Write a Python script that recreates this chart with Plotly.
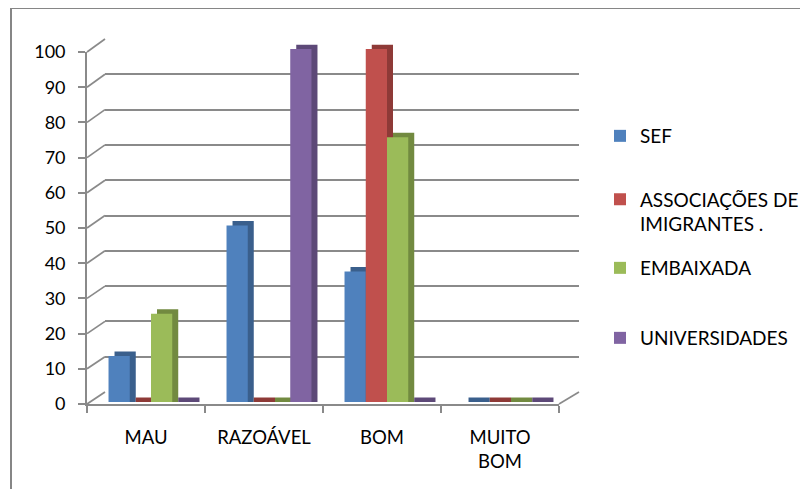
import plotly.graph_objects as go

categories = ["MAU", "RAZOÁVEL", "BOM", "MUITO<br>BOM"]
series_names = ["SEF", "ASSOCIAÇÕES DE<br>IMIGRANTES .", "EMBAIXADA", "UNIVERSIDADES"]
sef = [13, 50, 37, 0]
associacoes = [0, 0, 100, 0]
embaixada = [25, 0, 75, 0]
universidades = [0, 100, 0, 0]
y_ticks = [0, 10, 20, 30, 40, 50, 60, 70, 80, 90, 100]

values = [sef, associacoes, embaixada, universidades]
front_colors = ["#4F81BD", "#C0504D", "#9BBB59", "#8064A2"]
side_colors = ["#3A5F8C", "#8E3A37", "#728A40", "#5D4978"]

OFF = 8  # page body margin in the browser
W, H = 808 - OFF, 489 - OFF
# plot area in screen pixels
PL, PR, PT, PB = 87, 579, 39, 406


def fx(px):
    return (px - PL) / (PR - PL)


def fy(py):
    return (PB - py) / (PB - PT)


# geometry of the pseudo-3D planes (screen pixels)
FRONT = dict(x0=87, x1=559, y0=404, y100=52)
BACK = dict(x0=105, x1=579, y0=392, y100=39)
BARS = dict(x0=92, x1=564, y0=402, y100=49)
SIDE = dict(x0=98, x1=570, y0=397.5, y100=44.5)
SIDE_BASE = -1.3

FONT = "Lato"
GRID = "#8a8a8a"

fig = go.Figure()

# invisible anchors so every subplot exists
for ax in ["", "4"]:
    fig.add_trace(go.Scatter(x=categories, y=[0] * 4, mode="markers",
                             marker=dict(opacity=0), showlegend=False,
                             hoverinfo="skip", xaxis="x" + ax, yaxis="y" + ax))

# side/top faces (darker, offset behind)
for vals, col in zip(values, side_colors):
    fig.add_trace(go.Bar(x=categories, y=[v - SIDE_BASE for v in vals], base=SIDE_BASE,
                         marker=dict(color=col, line=dict(width=0)),
                         showlegend=False, hoverinfo="skip",
                         xaxis="x2", yaxis="y2"))

# front faces
legend_ids = ["legend", "legend2", "legend3", "legend4"]
for name, vals, col, lg in zip(series_names, values, front_colors, legend_ids):
    fig.add_trace(go.Bar(x=categories, y=vals, name=name,
                         marker=dict(color=col, line=dict(width=0)),
                         legend=lg, xaxis="x3", yaxis="y3"))


def ydom(plane, lo=0):
    k = (plane["y0"] - plane["y100"]) / 100.0
    return [fy(plane["y0"] - lo * k), fy(plane["y100"])]


hidden_x = dict(type="category", range=[-0.5, 3.5], visible=False,
                categoryorder="array", categoryarray=categories)

layout_axes = dict(
    xaxis=dict(hidden_x, domain=[fx(BACK["x0"]), fx(BACK["x1"])], anchor="y"),
    yaxis=dict(range=[0, 100], domain=ydom(BACK), anchor="x", dtick=10,
               showgrid=True, gridcolor=GRID, gridwidth=1.7, zeroline=False,
               showticklabels=False, showline=False),
    xaxis2=dict(hidden_x, domain=[fx(SIDE["x0"]), fx(SIDE["x1"])], anchor="y2"),
    yaxis2=dict(range=[SIDE_BASE, 100], domain=ydom(SIDE, SIDE_BASE), anchor="x2",
                visible=False),
    xaxis3=dict(hidden_x, domain=[fx(BARS["x0"]), fx(BARS["x1"])], anchor="y3"),
    yaxis3=dict(range=[0, 100], domain=ydom(BARS), anchor="x3", visible=False),
    xaxis4=dict(type="category", range=[-0.5, 3.5], categoryorder="array",
                categoryarray=categories,
                domain=[fx(FRONT["x0"]), fx(FRONT["x1"])], anchor="y4",
                showline=True, linecolor=GRID, linewidth=1.7,
                ticks="outside", tickson="boundaries", ticklen=7,
                tickcolor=GRID, tickwidth=1.7, showgrid=False,
                tickfont=dict(family=FONT, size=18.5, color="#000"),
                ticklabelstandoff=16),
    yaxis4=dict(range=[0, 100], domain=ydom(FRONT), anchor="x4",
                tickvals=y_ticks, showline=True, linecolor=GRID, linewidth=1.7,
                ticks="outside", ticklen=7, tickcolor=GRID, tickwidth=1.7,
                showgrid=False, zeroline=False,
                tickfont=dict(family=FONT, size=18, color="#000"),
                ticklabelstandoff=9),
)

shapes = []
# connectors from front axis to back wall
for v in y_ticks:
    yf = FRONT["y0"] - (FRONT["y0"] - FRONT["y100"]) * v / 100
    yb = BACK["y0"] - (BACK["y0"] - BACK["y100"]) * v / 100
    shapes.append(dict(type="line", xref="paper", yref="paper",
                       x0=fx(FRONT["x0"]), y0=fy(yf), x1=fx(BACK["x0"]), y1=fy(yb),
                       line=dict(color=GRID, width=1.7)))
# floor right edge
shapes.append(dict(type="line", xref="paper", yref="paper",
                   x0=fx(FRONT["x1"]), y0=fy(FRONT["y0"]), x1=fx(BACK["x1"]), y1=fy(BACK["y0"]),
                   line=dict(color=GRID, width=1.7)))
# outer chart border
shapes.append(dict(type="rect", xref="paper", yref="paper",
                   x0=fx(11), y0=fy(8), x1=fx(840), y1=fy(520),
                   line=dict(color="#868686", width=2), fillcolor="rgba(0,0,0,0)"))

legend_centers = [136, 212, 268, 338]
leg_font = dict(family=FONT, size=19, color="#000")
legends = {}
for lg, cy in zip(legend_ids, legend_centers):
    legends[lg] = dict(x=fx(600), y=fy(cy), xanchor="left", yanchor="middle",
                       font=leg_font, bgcolor="rgba(0,0,0,0)", valign="top",
                       itemclick=False, itemdoubleclick=False)

fig.update_layout(
    width=W, height=H,
    margin=dict(l=PL - OFF, r=W - (PR - OFF), t=PT - OFF, b=H - (PB - OFF),
                autoexpand=False),
    paper_bgcolor="white", plot_bgcolor="rgba(0,0,0,0)",
    barmode="group", bargap=0.28, bargroupgap=0,
    showlegend=True,
    shapes=shapes,
    **layout_axes,
    **legends,
)

fig.write_html("out.html")
